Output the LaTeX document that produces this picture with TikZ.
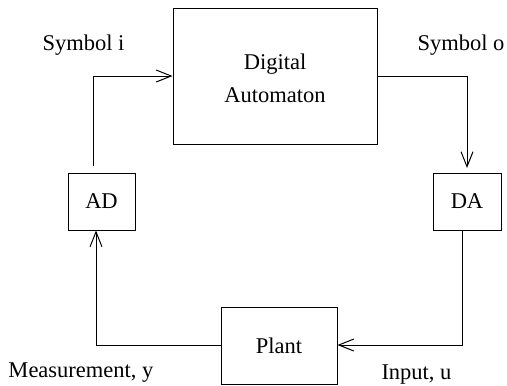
\documentclass[tikz,border=0pt]{standalone}
\usepackage{fontspec}
\setmainfont{Liberation Serif}
\usetikzlibrary{arrows.meta}
\begin{document}
\begin{tikzpicture}[x=1pt,y=-1pt,line width=1pt,
  blk/.style={draw,inner sep=0pt},
  lbl/.style={font=\fontsize{22.5}{27}\selectfont,inner sep=0pt},
  arr/.style={-{Straight Barb[length=15pt,width=12pt,line width=1pt]}}]
\useasboundingbox (0,0) rectangle (507,386);
\node[blk,minimum width=204pt,minimum height=136pt] (dig) at (275,76) {};
\node[lbl,align=center] (digt) at (275,78) {Digital\\[6pt]Automaton};
\node[blk,minimum width=67pt,minimum height=57pt,lbl,draw] (ad) at (101.5,201.5) {AD};
\node[blk,minimum width=68pt,minimum height=57pt,lbl,draw] (da) at (467,201.5) {DA};
\node[blk,minimum width=116pt,minimum height=77pt,lbl,draw] (pl) at (279,345.5) {Plant};
\node[lbl,anchor=west] (si) at (42,45) {Symbol i};
\node[lbl,anchor=west] (so) at (417,45) {Symbol o};
\node[lbl,anchor=west] (my) at (8,373) {Measurement, y};
\node[lbl,anchor=west] (iu) at (381,375) {Input, u};
\coordinate (c1) at (93,166);
\coordinate (c2) at (467,168);
\draw[arr] (c1) |- (dig.west |- 0,76);
\draw[arr] (dig.east |- 0,76) -| (c2);
\draw[arr] (pl.west |- 0,345) -| (ad.south -| 96,0);
\draw[arr] (da.south -| 462,0) |- (pl.east |- 0,345);
\end{tikzpicture}
\end{document}
